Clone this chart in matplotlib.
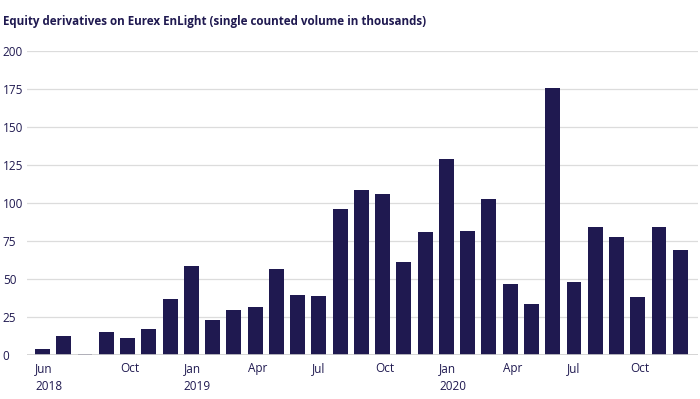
import matplotlib
matplotlib.use('Agg')
import matplotlib.pyplot as plt

plt.rcParams['font.family'] = ['Open Sans', 'DejaVu Sans']

# monthly volume, Jun 2018 - Dec 2020 (thousands)
months = ['Jun', 'Jul', 'Aug', 'Sep', 'Oct', 'Nov', 'Dec',
          'Jan', 'Feb', 'Mar', 'Apr', 'May', 'Jun', 'Jul', 'Aug', 'Sep', 'Oct', 'Nov', 'Dec',
          'Jan', 'Feb', 'Mar', 'Apr', 'May', 'Jun', 'Jul', 'Aug', 'Sep', 'Oct', 'Nov', 'Dec']
volume = [4, 12.5, 1, 15, 11, 17, 37,
          58.5, 23, 30, 31.5, 56.5, 39.5, 39, 96, 108.5, 106, 61, 81,
          129, 81.5, 103, 46.5, 33.5, 176, 48, 84, 77.5, 38, 84, 69]
tick_idx = [0, 4, 7, 10, 13, 16, 19, 22, 25, 28]
tick_labels = ['Jun\n2018', 'Oct', 'Jan\n2019', 'Apr', 'Jul', 'Oct', 'Jan\n2020', 'Apr', 'Jul', 'Oct']
yticks = [0, 25, 50, 75, 100, 125, 150, 175, 200]

navy = '#1f1950'

fig = plt.figure(figsize=(7, 3.99), dpi=100)
ax = fig.add_axes([0.0386, 0.110, 0.959, 0.762])

ax.bar(range(len(volume)), volume, width=0.7, color=navy, zorder=3)

ax.set_ylim(0, 200)
ax.set_xlim(-0.73, 30.85)
ax.set_yticks(yticks)
ax.grid(axis='y', color='#dcdcdc', linewidth=0.9, zorder=0)
ax.axhline(0, color='#cfcfcf', linewidth=1.2, zorder=4)

ax.set_xticks([i - 0.35 for i in tick_idx])
ax.set_xticklabels(tick_labels, ha='left', color=navy, fontsize=8.5, linespacing=1.5)
ax.tick_params(axis='x', length=0, pad=5)
ax.tick_params(axis='y', length=0, pad=17.5, labelcolor=navy, labelsize=8.5)
for lbl in ax.get_yticklabels():
    lbl.set_horizontalalignment('left')

for s in ax.spines.values():
    s.set_visible(False)

fig.text(0.004, 0.945, 'Equity derivatives on Eurex EnLight (single counted volume in thousands)',
         fontsize=8.4, fontweight='bold', color=navy, va='center', ha='left')

fig.savefig('out.png', dpi=100)
